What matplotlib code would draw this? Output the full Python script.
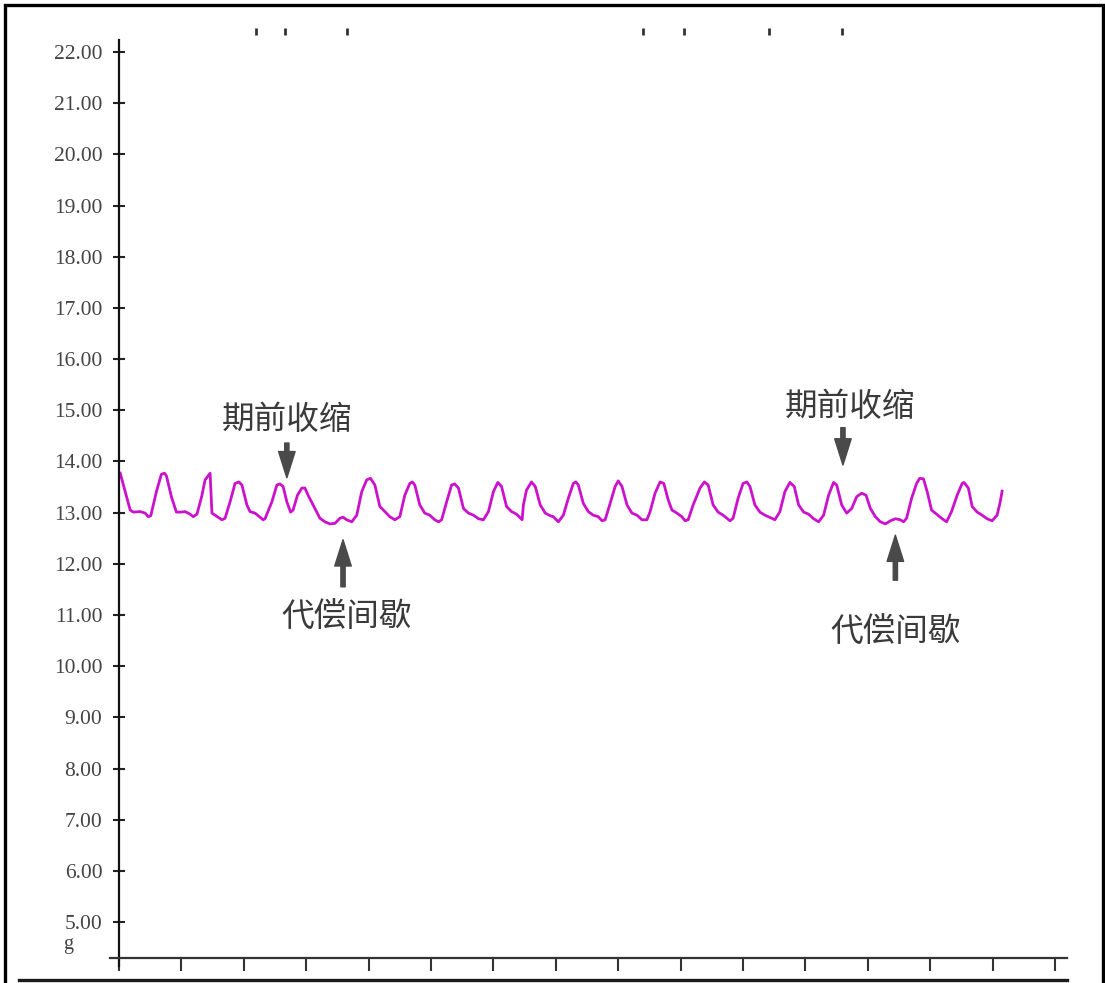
import matplotlib
matplotlib.use('Agg')
import matplotlib.pyplot as plt
from matplotlib.patches import Rectangle
from matplotlib.lines import Line2D

# Tension trace (time in s, tension in g)
time_s = [0.02, 0.18, 0.23, 0.34, 0.42, 0.47, 0.51, 0.60, 0.68, 0.73, 0.76, 0.84, 0.92, 1.00, 1.06, 1.14, 1.19, 1.25,
          1.33, 1.38, 1.46, 1.49, 1.54, 1.65, 1.70, 1.78, 1.86, 1.92, 1.97, 2.05, 2.10, 2.18, 2.31,
          2.34, 2.45, 2.53, 2.58, 2.63, 2.69, 2.75, 2.79, 2.86, 2.93, 2.98, 3.03, 3.14, 3.22, 3.30, 3.38,
          3.46, 3.54, 3.59, 3.65, 3.73, 3.81, 3.89, 3.97, 4.03, 4.10, 4.18, 4.26, 4.34, 4.42, 4.50, 4.58,
          4.66, 4.70, 4.74, 4.82, 4.90, 4.98, 5.06, 5.12, 5.17, 5.25, 5.33, 5.38, 5.44, 5.52, 5.60, 5.68,
          5.76, 5.84, 5.92, 6.00, 6.07, 6.13, 6.21, 6.29, 6.37, 6.46, 6.48, 6.53, 6.61, 6.67, 6.75, 6.83, 6.91,
          6.96, 7.04, 7.12, 7.20, 7.28, 7.32, 7.36, 7.44, 7.52, 7.60, 7.68, 7.74, 7.79, 7.87, 7.95, 8.00,
          8.06, 8.14, 8.22, 8.30, 8.38, 8.46, 8.51, 8.59, 8.67, 8.73, 8.80, 8.86, 8.94, 9.02, 9.07, 9.12, 9.20,
          9.31, 9.38, 9.44, 9.52, 9.60, 9.68, 9.79, 9.84, 9.92, 10.00, 10.06, 10.11, 10.19, 10.27, 10.35,
          10.46, 10.51, 10.59, 10.67, 10.75, 10.82, 10.89, 10.97, 11.05, 11.13, 11.21, 11.29, 11.37, 11.45,
          11.50, 11.58,
          11.66, 11.74, 11.82, 11.90, 11.97, 12.04, 12.12, 12.20, 12.28, 12.36, 12.44, 12.52, 12.57, 12.62,
          12.70, 12.78, 12.83, 12.89, 12.95, 13.02, 13.10, 13.18, 13.26, 13.34, 13.43, 13.51, 13.54, 13.61,
          13.67, 13.75, 13.83, 13.91, 13.99, 14.07, 14.12, 14.15]
tension_g = [13.77, 13.05, 13.01, 13.02, 12.99, 12.92, 12.94, 13.41, 13.75, 13.77, 13.72, 13.31, 13.01, 13.01, 13.02, 12.97, 12.92, 12.97,
             13.34, 13.64, 13.77, 12.99, 12.95, 12.86, 12.89, 13.21, 13.57, 13.60, 13.54, 13.15, 13.02, 12.99, 12.86,
             12.88, 13.21, 13.54, 13.56, 13.51, 13.21, 13.01, 13.05, 13.34, 13.48, 13.48, 13.34, 13.08, 12.89, 12.82, 12.78,
             12.79, 12.89, 12.91, 12.86, 12.82, 12.95, 13.41, 13.64, 13.67, 13.54, 13.12, 13.02, 12.92, 12.86, 12.92, 13.34,
             13.57, 13.60, 13.54, 13.15, 12.99, 12.95, 12.86, 12.82, 12.86, 13.21, 13.54, 13.56, 13.48, 13.08, 12.99, 12.95,
             12.88, 12.86, 13.02, 13.41, 13.59, 13.51, 13.12, 13.02, 12.97, 12.86, 13.15, 13.44, 13.60, 13.51, 13.15, 12.99, 12.94,
             12.92, 12.82, 12.95, 13.28, 13.57, 13.60, 13.54, 13.18, 13.02, 12.95, 12.92, 12.84, 12.86, 13.18, 13.51, 13.62,
             13.51, 13.15, 12.99, 12.95, 12.86, 12.86, 13.02, 13.38, 13.60, 13.57, 13.25, 13.05, 12.99, 12.92, 12.84, 12.86, 13.15,
             13.48, 13.60, 13.54, 13.15, 13.01, 12.95, 12.84, 12.89, 13.28, 13.57, 13.60, 13.51, 13.15, 13.01, 12.95,
             12.89, 12.86, 13.02, 13.41, 13.59, 13.51, 13.15, 13.01, 12.97, 12.88, 12.82, 12.95, 13.34, 13.59,
             13.54, 13.15,
             12.99, 13.08, 13.31, 13.38, 13.34, 13.08, 12.92, 12.82, 12.78, 12.84, 12.88, 12.86, 12.82, 12.89,
             13.28, 13.57, 13.67, 13.66, 13.41, 13.05, 12.97, 12.89, 12.82, 13.02, 13.34, 13.57, 13.59, 13.48,
             13.12, 13.01, 12.95, 12.88, 12.84, 12.95, 13.21, 13.42]

# event marks along the top
marker_times = [2.20, 2.66, 3.65, 8.40, 9.06, 10.42, 11.59]

y_ticks = list(range(5, 23))
x_ticks = list(range(0, 16))

# (label, text position, arrow tail, arrow tip)
notes = [
    ('期前收缩', (2.69, 14.81), (2.69, 14.36), (2.69, 13.68)),
    ('期前收缩', (11.71, 15.06), (11.60, 14.66), (11.60, 13.93)),
    ('代偿间歇', (3.64, 10.96), (3.59, 11.55), (3.59, 12.47)),
    ('代偿间歇', (12.45, 10.67), (12.44, 11.68), (12.44, 12.56)),
]

W, H = 1105, 983
fig = plt.figure(figsize=(W / 100, H / 100), dpi=100)
ax = fig.add_axes([109.6 / W, 25 / H, (1067 - 109.6) / W, 938 / H])

ax.plot(time_s, tension_g, color='#cc11cc', lw=2.0, solid_joinstyle='round')
ax.vlines(marker_times, 22.33, 22.47, color='#333333', lw=2)

for label, tpos, tail, tip in notes:
    ax.text(tpos[0], tpos[1], label, ha='center', va='center', fontsize=23.5, color='#3a3a3a',
            family=['Noto Sans CJK SC', 'DejaVu Sans'])
    ax.annotate('', xy=tip, xytext=tail,
                arrowprops=dict(arrowstyle='simple,head_length=1.35,head_width=0.85,tail_width=0.22',
                                color='#4a4a4a', mutation_scale=14, shrinkA=0, shrinkB=0))

ax.set_xlim(-0.15, 15.19)
ax.set_ylim(4.298, 22.625)
for s in ['top', 'right']:
    ax.spines[s].set_visible(False)
ax.spines['left'].set_position(('data', 0))
ax.spines['left'].set_bounds(4.15, 22.23)
ax.spines['left'].set_linewidth(1.6)
ax.spines['left'].set_color('#111111')
ax.spines['bottom'].set_linewidth(1.6)
ax.spines['bottom'].set_color('#333333')

ax.set_yticks(y_ticks)
ax.set_yticklabels(['{:.2f}'.format(v) for v in y_ticks], family='Liberation Serif', fontsize=15.5, color='#444444')
ax.tick_params(axis='y', direction='inout', length=8, width=1.5, pad=8, colors='#222222', labelcolor='#444444')
ax.set_xticks(x_ticks)
ax.set_xticklabels([])
ax.tick_params(axis='x', direction='out', length=9, width=1.5, colors='#333333')

fig.text(68 / W, 1 - 944 / H, 'g', ha='center', va='center', family='Liberation Serif', fontsize=14.5, color='#444444')

# page frame and bottom rule
fig.patches.append(Rectangle((5 / W, -0.05), (1102.5 - 5) / W, 1.05 - 5 / H, transform=fig.transFigure,
                             fill=False, lw=2.4, edgecolor='black'))
fig.lines.append(Line2D([19 / W, 1067 / W], [1 - 980 / H, 1 - 980 / H], transform=fig.transFigure,
                        color='#1a1a1a', lw=2.4))

fig.savefig('out.png', dpi=100)
